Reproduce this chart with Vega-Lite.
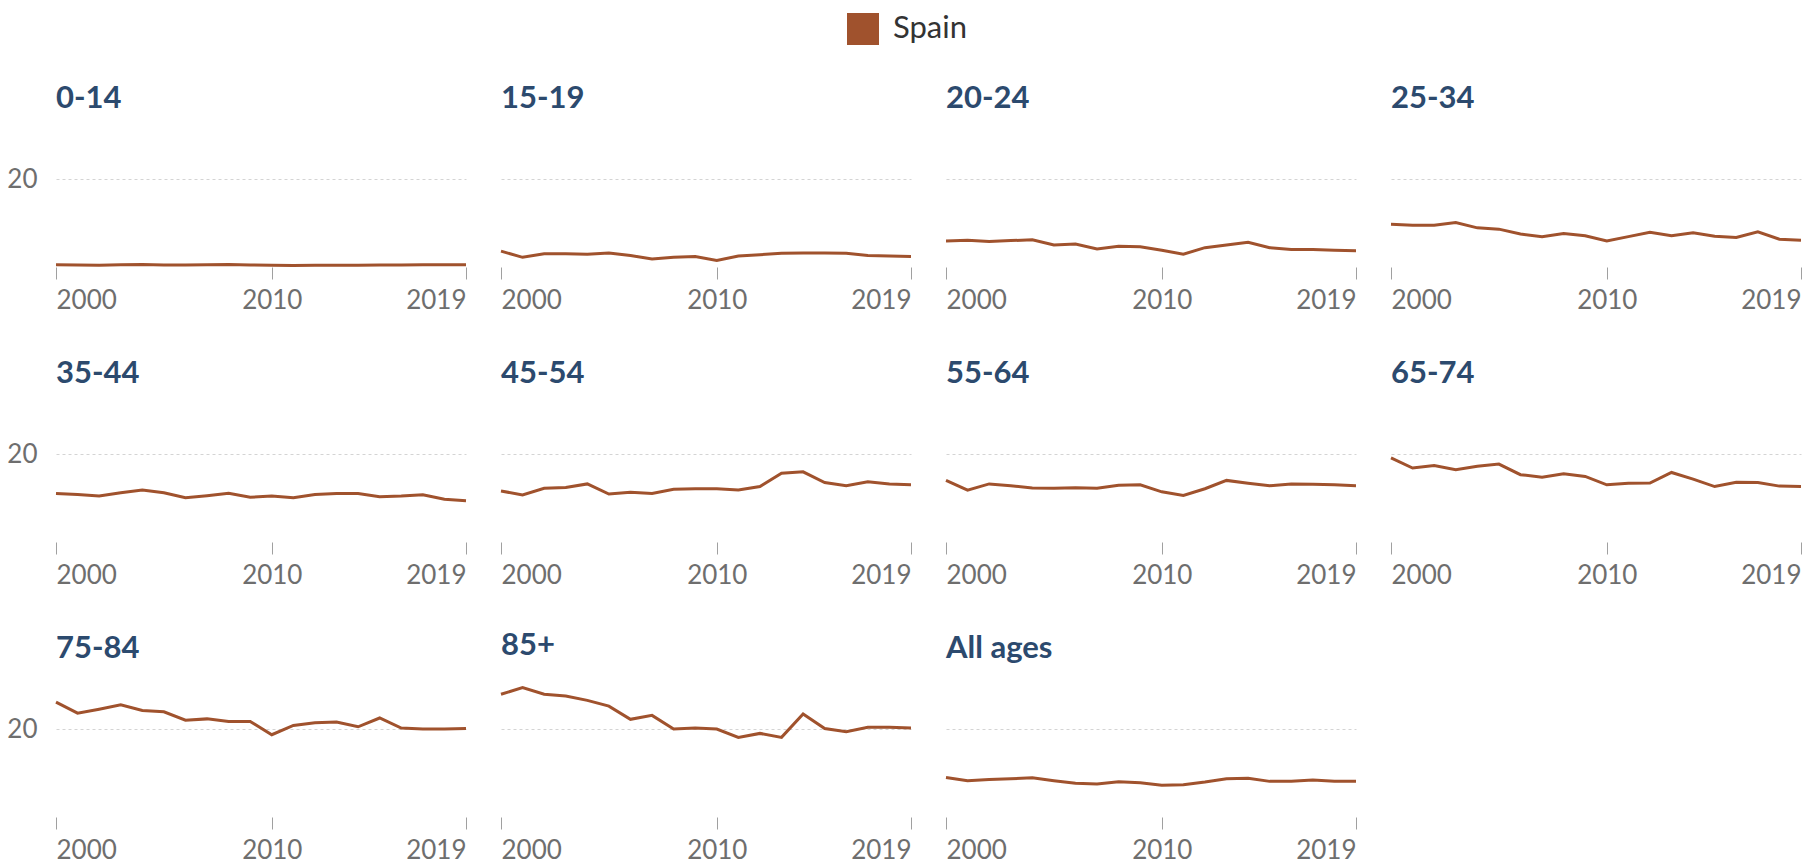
{
  "$schema": "https://vega.github.io/schema/vega-lite/v6.json",
  "padding": {"left": 6, "top": 13, "right": 0, "bottom": 0},
  "datasets": {
    "rates": [
      {"age": "0-14", "year": 2000, "rate": 0.5}, {"age": "0-14", "year": 2001, "rate": 0.45}, {"age": "0-14", "year": 2002, "rate": 0.4}, {"age": "0-14", "year": 2003, "rate": 0.5}, {"age": "0-14", "year": 2004, "rate": 0.55}, {"age": "0-14", "year": 2005, "rate": 0.45}, {"age": "0-14", "year": 2006, "rate": 0.45}, {"age": "0-14", "year": 2007, "rate": 0.5}, {"age": "0-14", "year": 2008, "rate": 0.55}, {"age": "0-14", "year": 2009, "rate": 0.45}, {"age": "0-14", "year": 2010, "rate": 0.4}, {"age": "0-14", "year": 2011, "rate": 0.35}, {"age": "0-14", "year": 2012, "rate": 0.4}, {"age": "0-14", "year": 2013, "rate": 0.4}, {"age": "0-14", "year": 2014, "rate": 0.4}, {"age": "0-14", "year": 2015, "rate": 0.45}, {"age": "0-14", "year": 2016, "rate": 0.45}, {"age": "0-14", "year": 2017, "rate": 0.5}, {"age": "0-14", "year": 2018, "rate": 0.5}, {"age": "0-14", "year": 2019, "rate": 0.5},
      {"age": "15-19", "year": 2000, "rate": 3.6}, {"age": "15-19", "year": 2001, "rate": 2.2}, {"age": "15-19", "year": 2002, "rate": 3.0}, {"age": "15-19", "year": 2003, "rate": 3.0}, {"age": "15-19", "year": 2004, "rate": 2.9}, {"age": "15-19", "year": 2005, "rate": 3.2}, {"age": "15-19", "year": 2006, "rate": 2.6}, {"age": "15-19", "year": 2007, "rate": 1.8}, {"age": "15-19", "year": 2008, "rate": 2.2}, {"age": "15-19", "year": 2009, "rate": 2.4}, {"age": "15-19", "year": 2010, "rate": 1.5}, {"age": "15-19", "year": 2011, "rate": 2.5}, {"age": "15-19", "year": 2012, "rate": 2.8}, {"age": "15-19", "year": 2013, "rate": 3.1}, {"age": "15-19", "year": 2014, "rate": 3.2}, {"age": "15-19", "year": 2015, "rate": 3.2}, {"age": "15-19", "year": 2016, "rate": 3.1}, {"age": "15-19", "year": 2017, "rate": 2.6}, {"age": "15-19", "year": 2018, "rate": 2.5}, {"age": "15-19", "year": 2019, "rate": 2.4},
      {"age": "20-24", "year": 2000, "rate": 5.9}, {"age": "20-24", "year": 2001, "rate": 6.1}, {"age": "20-24", "year": 2002, "rate": 5.8}, {"age": "20-24", "year": 2003, "rate": 6.0}, {"age": "20-24", "year": 2004, "rate": 6.2}, {"age": "20-24", "year": 2005, "rate": 5.0}, {"age": "20-24", "year": 2006, "rate": 5.2}, {"age": "20-24", "year": 2007, "rate": 4.1}, {"age": "20-24", "year": 2008, "rate": 4.7}, {"age": "20-24", "year": 2009, "rate": 4.6}, {"age": "20-24", "year": 2010, "rate": 3.8}, {"age": "20-24", "year": 2011, "rate": 2.9}, {"age": "20-24", "year": 2012, "rate": 4.4}, {"age": "20-24", "year": 2013, "rate": 5.0}, {"age": "20-24", "year": 2014, "rate": 5.6}, {"age": "20-24", "year": 2015, "rate": 4.4}, {"age": "20-24", "year": 2016, "rate": 4.0}, {"age": "20-24", "year": 2017, "rate": 4.0}, {"age": "20-24", "year": 2018, "rate": 3.8}, {"age": "20-24", "year": 2019, "rate": 3.7},
      {"age": "25-34", "year": 2000, "rate": 9.7}, {"age": "25-34", "year": 2001, "rate": 9.5}, {"age": "25-34", "year": 2002, "rate": 9.5}, {"age": "25-34", "year": 2003, "rate": 10.1}, {"age": "25-34", "year": 2004, "rate": 8.9}, {"age": "25-34", "year": 2005, "rate": 8.6}, {"age": "25-34", "year": 2006, "rate": 7.5}, {"age": "25-34", "year": 2007, "rate": 6.9}, {"age": "25-34", "year": 2008, "rate": 7.6}, {"age": "25-34", "year": 2009, "rate": 7.1}, {"age": "25-34", "year": 2010, "rate": 5.9}, {"age": "25-34", "year": 2011, "rate": 6.9}, {"age": "25-34", "year": 2012, "rate": 7.9}, {"age": "25-34", "year": 2013, "rate": 7.1}, {"age": "25-34", "year": 2014, "rate": 7.8}, {"age": "25-34", "year": 2015, "rate": 7.0}, {"age": "25-34", "year": 2016, "rate": 6.7}, {"age": "25-34", "year": 2017, "rate": 8.0}, {"age": "25-34", "year": 2018, "rate": 6.3}, {"age": "25-34", "year": 2019, "rate": 6.1},
      {"age": "35-44", "year": 2000, "rate": 11.05}, {"age": "35-44", "year": 2001, "rate": 10.8}, {"age": "35-44", "year": 2002, "rate": 10.45}, {"age": "35-44", "year": 2003, "rate": 11.2}, {"age": "35-44", "year": 2004, "rate": 11.8}, {"age": "35-44", "year": 2005, "rate": 11.2}, {"age": "35-44", "year": 2006, "rate": 10.05}, {"age": "35-44", "year": 2007, "rate": 10.5}, {"age": "35-44", "year": 2008, "rate": 11.05}, {"age": "35-44", "year": 2009, "rate": 10.15}, {"age": "35-44", "year": 2010, "rate": 10.45}, {"age": "35-44", "year": 2011, "rate": 10.05}, {"age": "35-44", "year": 2012, "rate": 10.8}, {"age": "35-44", "year": 2013, "rate": 11.05}, {"age": "35-44", "year": 2014, "rate": 11.0}, {"age": "35-44", "year": 2015, "rate": 10.3}, {"age": "35-44", "year": 2016, "rate": 10.45}, {"age": "35-44", "year": 2017, "rate": 10.75}, {"age": "35-44", "year": 2018, "rate": 9.7}, {"age": "35-44", "year": 2019, "rate": 9.4},
      {"age": "45-54", "year": 2000, "rate": 11.6}, {"age": "45-54", "year": 2001, "rate": 10.7}, {"age": "45-54", "year": 2002, "rate": 12.2}, {"age": "45-54", "year": 2003, "rate": 12.4}, {"age": "45-54", "year": 2004, "rate": 13.2}, {"age": "45-54", "year": 2005, "rate": 10.9}, {"age": "45-54", "year": 2006, "rate": 11.3}, {"age": "45-54", "year": 2007, "rate": 11.05}, {"age": "45-54", "year": 2008, "rate": 12.0}, {"age": "45-54", "year": 2009, "rate": 12.1}, {"age": "45-54", "year": 2010, "rate": 12.1}, {"age": "45-54", "year": 2011, "rate": 11.8}, {"age": "45-54", "year": 2012, "rate": 12.6}, {"age": "45-54", "year": 2013, "rate": 15.65}, {"age": "45-54", "year": 2014, "rate": 15.95}, {"age": "45-54", "year": 2015, "rate": 13.5}, {"age": "45-54", "year": 2016, "rate": 12.8}, {"age": "45-54", "year": 2017, "rate": 13.7}, {"age": "45-54", "year": 2018, "rate": 13.2}, {"age": "45-54", "year": 2019, "rate": 13.0},
      {"age": "55-64", "year": 2000, "rate": 14.0}, {"age": "55-64", "year": 2001, "rate": 11.8}, {"age": "55-64", "year": 2002, "rate": 13.2}, {"age": "55-64", "year": 2003, "rate": 12.8}, {"age": "55-64", "year": 2004, "rate": 12.3}, {"age": "55-64", "year": 2005, "rate": 12.2}, {"age": "55-64", "year": 2006, "rate": 12.35}, {"age": "55-64", "year": 2007, "rate": 12.2}, {"age": "55-64", "year": 2008, "rate": 12.9}, {"age": "55-64", "year": 2009, "rate": 13.0}, {"age": "55-64", "year": 2010, "rate": 11.4}, {"age": "55-64", "year": 2011, "rate": 10.6}, {"age": "55-64", "year": 2012, "rate": 12.1}, {"age": "55-64", "year": 2013, "rate": 14.0}, {"age": "55-64", "year": 2014, "rate": 13.35}, {"age": "55-64", "year": 2015, "rate": 12.8}, {"age": "55-64", "year": 2016, "rate": 13.2}, {"age": "55-64", "year": 2017, "rate": 13.1}, {"age": "55-64", "year": 2018, "rate": 13.0}, {"age": "55-64", "year": 2019, "rate": 12.8},
      {"age": "65-74", "year": 2000, "rate": 19.1}, {"age": "65-74", "year": 2001, "rate": 16.8}, {"age": "65-74", "year": 2002, "rate": 17.4}, {"age": "65-74", "year": 2003, "rate": 16.4}, {"age": "65-74", "year": 2004, "rate": 17.2}, {"age": "65-74", "year": 2005, "rate": 17.7}, {"age": "65-74", "year": 2006, "rate": 15.3}, {"age": "65-74", "year": 2007, "rate": 14.7}, {"age": "65-74", "year": 2008, "rate": 15.5}, {"age": "65-74", "year": 2009, "rate": 14.9}, {"age": "65-74", "year": 2010, "rate": 13.0}, {"age": "65-74", "year": 2011, "rate": 13.35}, {"age": "65-74", "year": 2012, "rate": 13.4}, {"age": "65-74", "year": 2013, "rate": 15.8}, {"age": "65-74", "year": 2014, "rate": 14.3}, {"age": "65-74", "year": 2015, "rate": 12.6}, {"age": "65-74", "year": 2016, "rate": 13.6}, {"age": "65-74", "year": 2017, "rate": 13.5}, {"age": "65-74", "year": 2018, "rate": 12.7}, {"age": "65-74", "year": 2019, "rate": 12.6},
      {"age": "75-84", "year": 2000, "rate": 26.1}, {"age": "75-84", "year": 2001, "rate": 23.6}, {"age": "75-84", "year": 2002, "rate": 24.5}, {"age": "75-84", "year": 2003, "rate": 25.5}, {"age": "75-84", "year": 2004, "rate": 24.2}, {"age": "75-84", "year": 2005, "rate": 23.9}, {"age": "75-84", "year": 2006, "rate": 22.0}, {"age": "75-84", "year": 2007, "rate": 22.3}, {"age": "75-84", "year": 2008, "rate": 21.7}, {"age": "75-84", "year": 2009, "rate": 21.7}, {"age": "75-84", "year": 2010, "rate": 18.7}, {"age": "75-84", "year": 2011, "rate": 20.8}, {"age": "75-84", "year": 2012, "rate": 21.4}, {"age": "75-84", "year": 2013, "rate": 21.6}, {"age": "75-84", "year": 2014, "rate": 20.5}, {"age": "75-84", "year": 2015, "rate": 22.5}, {"age": "75-84", "year": 2016, "rate": 20.2}, {"age": "75-84", "year": 2017, "rate": 20.0}, {"age": "75-84", "year": 2018, "rate": 20.0}, {"age": "75-84", "year": 2019, "rate": 20.1},
      {"age": "85+", "year": 2000, "rate": 27.9}, {"age": "85+", "year": 2001, "rate": 29.4}, {"age": "85+", "year": 2002, "rate": 27.9}, {"age": "85+", "year": 2003, "rate": 27.5}, {"age": "85+", "year": 2004, "rate": 26.5}, {"age": "85+", "year": 2005, "rate": 25.2}, {"age": "85+", "year": 2006, "rate": 22.2}, {"age": "85+", "year": 2007, "rate": 23.1}, {"age": "85+", "year": 2008, "rate": 20.0}, {"age": "85+", "year": 2009, "rate": 20.2}, {"age": "85+", "year": 2010, "rate": 20.0}, {"age": "85+", "year": 2011, "rate": 18.1}, {"age": "85+", "year": 2012, "rate": 19.0}, {"age": "85+", "year": 2013, "rate": 18.1}, {"age": "85+", "year": 2014, "rate": 23.4}, {"age": "85+", "year": 2015, "rate": 20.1}, {"age": "85+", "year": 2016, "rate": 19.4}, {"age": "85+", "year": 2017, "rate": 20.4}, {"age": "85+", "year": 2018, "rate": 20.4}, {"age": "85+", "year": 2019, "rate": 20.2},
      {"age": "All ages", "year": 2000, "rate": 9.0}, {"age": "All ages", "year": 2001, "rate": 8.25}, {"age": "All ages", "year": 2002, "rate": 8.5}, {"age": "All ages", "year": 2003, "rate": 8.7}, {"age": "All ages", "year": 2004, "rate": 8.9}, {"age": "All ages", "year": 2005, "rate": 8.25}, {"age": "All ages", "year": 2006, "rate": 7.65}, {"age": "All ages", "year": 2007, "rate": 7.5}, {"age": "All ages", "year": 2008, "rate": 8.0}, {"age": "All ages", "year": 2009, "rate": 7.8}, {"age": "All ages", "year": 2010, "rate": 7.2}, {"age": "All ages", "year": 2011, "rate": 7.35}, {"age": "All ages", "year": 2012, "rate": 7.95}, {"age": "All ages", "year": 2013, "rate": 8.7}, {"age": "All ages", "year": 2014, "rate": 8.8}, {"age": "All ages", "year": 2015, "rate": 8.1}, {"age": "All ages", "year": 2016, "rate": 8.1}, {"age": "All ages", "year": 2017, "rate": 8.4}, {"age": "All ages", "year": 2018, "rate": 8.1}, {"age": "All ages", "year": 2019, "rate": 8.1}
    ]
  },
  "data": {"name": "rates"},
  "transform": [{"calculate": "'Spain'", "as": "country"}],
  "columns": 4,
  "spacing": {"column": 23, "row": 41},
  "facet": {
    "field": "age",
    "type": "nominal",
    "sort": ["0-14", "15-19", "20-24", "25-34", "35-44", "45-54", "55-64", "65-74", "75-84", "85+", "All ages"],
    "header": {
      "title": null,
      "labelFont": "Lato",
      "labelFontSize": 31,
      "labelFontWeight": "bold",
      "labelColor": "#2c4a6e",
      "labelAnchor": "start",
      "labelAlign": "left",
      "labelOrient": "top",
      "labelPadding": 20
    }
  },
  "spec": {
    "width": 410,
    "height": 132,
    "mark": {"type": "line", "strokeWidth": 3},
    "encoding": {
      "x": {
        "field": "year",
        "type": "quantitative",
        "scale": {"domain": [2000, 2019], "nice": false, "zero": false},
        "axis": {
          "title": null,
          "values": [2000, 2010, 2019],
          "format": "d",
          "labelFlush": true,
          "grid": false,
          "domain": false,
          "ticks": true,
          "tickSize": 12,
          "tickColor": "#a0a0a0",
          "tickWidth": 1,
          "labelPadding": 8,
          "labelFont": "Lato",
          "labelFontSize": 26,
          "labelColor": "#6e6e6e"
        }
      },
      "y": {
        "field": "rate",
        "type": "quantitative",
        "scale": {"domain": [0, 30], "nice": false},
        "axis": {
          "title": null,
          "values": [20],
          "grid": true,
          "gridDash": [3, 3],
          "gridColor": "#d4d4d4",
          "gridWidth": 1,
          "domain": false,
          "ticks": false,
          "labelPadding": 13,
          "labelFont": "Lato",
          "labelFontSize": 26,
          "labelColor": "#6e6e6e"
        }
      },
      "color": {
        "field": "country",
        "type": "nominal",
        "scale": {"range": ["#a0522d"]},
        "legend": {
          "title": null,
          "orient": "top",
          "offset": 38,
          "symbolType": "square",
          "symbolSize": 1024,
          "symbolFillColor": "#a0522d",
          "symbolStrokeWidth": 0,
          "labelFont": "Lato",
          "labelFontSize": 31,
          "labelColor": "#333333",
          "labelOffset": 14
        }
      }
    }
  },
  "resolve": {"axis": {"x": "independent"}},
  "config": {
    "font": "Lato",
    "view": {"stroke": null},
    "legend": {"layout": {"top": {"anchor": "middle"}}}
  }
}
